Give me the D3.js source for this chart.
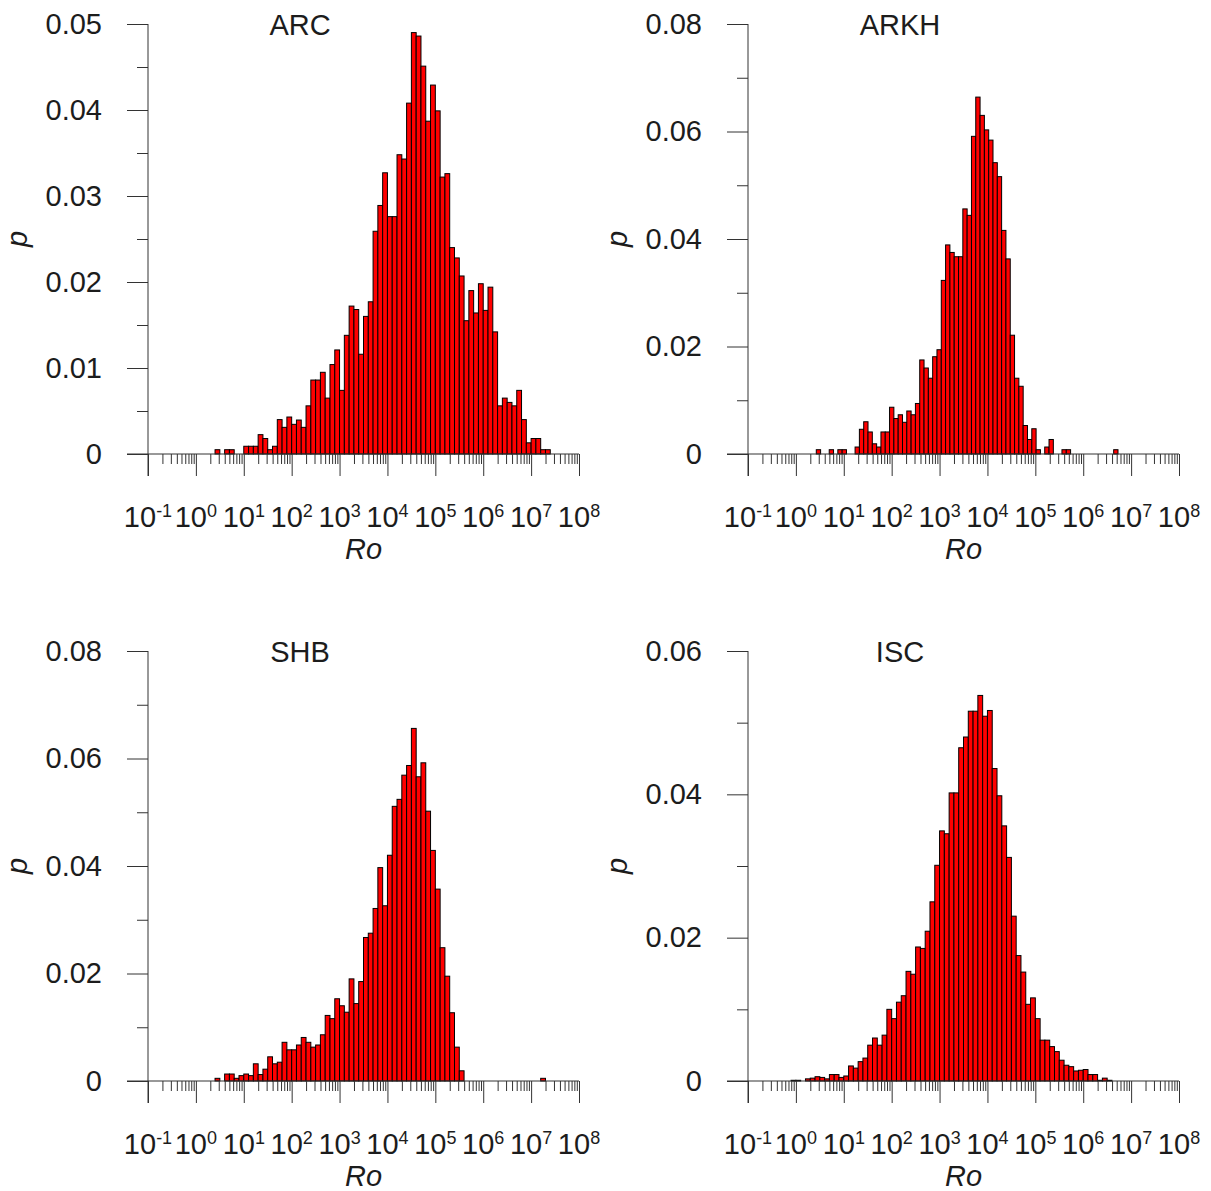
<!DOCTYPE html>
<html>
<head>
<meta charset="utf-8">
<script src="https://cdn.jsdelivr.net/npm/d3@7"></script>
<style>
  body { margin: 0; background: #fff; }
  svg text { font-family: "Liberation Sans", Arial, sans-serif; }
</style>
</head>
<body>
<svg id="chart" width="1211" height="1191"></svg>
<script>
// ---- data: histograms of Ro (log10 bins), p = share of observations per bin ----
const xExponents = [-1, 0, 1, 2, 3, 4, 5, 6, 7, 8];

// ARC: bins of 0.1 decade starting at 10^0.4
const arcStart = 0.4, arcWidth = 0.1;
const arcP = [
  0.0005, 0, 0.0005, 0.0005, 0, 0,
  0.0009, 0.0009, 0.0009, 0.00225, 0.0018, 0.0005, 0.0009, 0.004, 0.0031, 0.0043,
  0.00345, 0.00395, 0.0031, 0.0056, 0.0086, 0.0086, 0.0095, 0.0065, 0.0104, 0.0121,
  0.0074, 0.0138, 0.0172, 0.0168, 0.0116, 0.016, 0.0177, 0.0259, 0.0289, 0.0327,
  0.0276, 0.0276, 0.0348, 0.0343, 0.0408, 0.049, 0.0486, 0.0451, 0.0387, 0.0429,
  0.0399, 0.0322, 0.0326, 0.024, 0.0228, 0.0207, 0.0155, 0.019, 0.0164, 0.0198,
  0.0167, 0.0194, 0.0142, 0.0056, 0.0065, 0.006, 0.0056, 0.0074, 0.004, 0.0013,
  0.0018, 0.0018, 0.0005, 0.0005
];
const arcTicks = [0, 0.01, 0.02, 0.03, 0.04, 0.05];

// ARKH: slightly narrower bins (~0.09 decade) starting at 10^0.426
const arkhStart = 0.426, arkhWidth = 0.09;
const arkhP = [
  0.0008, 0, 0, 0.0008, 0, 0.0008, 0.0008, 0, 0, 0.0013,
  0.0046, 0.006, 0.0041, 0.0019, 0.0013, 0.0041, 0.0041, 0.0087, 0.0066, 0.0073,
  0.0059, 0.008, 0.0073, 0.0094, 0.0175, 0.016, 0.0141, 0.0181, 0.0194, 0.0323,
  0.0389, 0.0375, 0.0367, 0.0367, 0.0456, 0.0444, 0.0591, 0.0664, 0.063, 0.0603,
  0.0584, 0.0542, 0.0516, 0.0416, 0.0363, 0.0221, 0.0141, 0.0126, 0.0053, 0.0027,
  0.0047, 0.0008, 0, 0.0013, 0.0027, 0, 0, 0.0008, 0.0008, 0,
  0, 0, 0, 0, 0, 0, 0, 0, 0, 0.0008
];
const arkhTicks = [0, 0.02, 0.04, 0.06, 0.08];

// SHB
const shbStart = 0.4, shbWidth = 0.1;
const shbP = [
  0.0005, 0, 0.0013, 0.0013, 0.0005, 0.001,
  0.0013, 0.001, 0.0032, 0.0012, 0.0022, 0.0045, 0.0032, 0.0035, 0.0072, 0.0058,
  0.0058, 0.0067, 0.0081, 0.0072, 0.0063, 0.0067, 0.0086, 0.0122, 0.0116, 0.0153,
  0.014, 0.0128, 0.019, 0.0144, 0.0185, 0.0267, 0.0275, 0.0321, 0.0397, 0.0326,
  0.042, 0.0511, 0.0524, 0.0569, 0.0587, 0.0656, 0.0566, 0.0592, 0.0502, 0.0429,
  0.0357, 0.0248, 0.0195, 0.0127, 0.0063, 0.0019, 0, 0, 0, 0,
  0, 0, 0, 0, 0, 0, 0, 0, 0, 0,
  0, 0, 0.0005
];
const shbTicks = [0, 0.02, 0.04, 0.06, 0.08];

// ISC
const iscStart = -0.1, iscWidth = 0.1;
const iscP = [
  0.0001, 0.0001, 0, 0.0003, 0.0004, 0.0006, 0.0005, 0.0003, 0.0009, 0.0009, 0.0005,
  0.0007, 0.0021, 0.0018, 0.0027, 0.0032, 0.005, 0.006, 0.005, 0.0064, 0.01,
  0.0087, 0.011, 0.0119, 0.0153, 0.0149, 0.0187, 0.0185, 0.0209, 0.025, 0.0301,
  0.0349, 0.0345, 0.0402, 0.0402, 0.0465, 0.048, 0.0516, 0.0516, 0.0538, 0.0509,
  0.0517, 0.0436, 0.0398, 0.0356, 0.0312, 0.023, 0.0175, 0.0152, 0.0107, 0.0116,
  0.0087, 0.0057, 0.0057, 0.0048, 0.0041, 0.0029, 0.0022, 0.002, 0.0014, 0.0015,
  0.0016, 0.0009, 0.0009, 0.0001, 0.0004, 0.0001
];
const iscTicks = [0, 0.02, 0.04, 0.06];

const panels = [
  { name: 'ARC',  start: arcStart,  width: arcWidth,  values: arcP,  ticks: arcTicks,  col: 0, row: 0 },
  { name: 'ARKH', start: arkhStart, width: arkhWidth, values: arkhP, ticks: arkhTicks, col: 1, row: 0 },
  { name: 'SHB',  start: shbStart,  width: shbWidth,  values: shbP,  ticks: shbTicks,  col: 0, row: 1 },
  { name: 'ISC',  start: iscStart,  width: iscWidth,  values: iscP,  ticks: iscTicks,  col: 1, row: 1 }
];

// ---- layout ----
const FONT = '"Liberation Sans", Arial, sans-serif';
const FS = 29;
const INK = '#1c1c1c';
const AXIS = '#333';
const W = 431, H = 430;
const colX = [148, 748], rowY = [24, 651];

const svg = d3.select('#chart');

function drawPanel(p) {
  const g = svg.append('g').attr('transform', `translate(${colX[p.col]},${rowY[p.row]})`);
  const x = d3.scaleLog().domain([1e-1, 1e8]).range([0, W]);
  const y = d3.scaleLinear().domain([0, d3.max(p.ticks)]).range([H, 0]);

  // bars
  const bins = p.values
    .map((v, i) => ({ lo: 10 ** (p.start + i * p.width), hi: 10 ** (p.start + (i + 1) * p.width), v }))
    .filter(d => d.v > 0);
  g.append('g').selectAll('rect')
    .data(bins)
    .join('rect')
      .attr('x', d => x(d.lo))
      .attr('width', d => x(d.hi) - x(d.lo))
      .attr('y', d => y(d.v))
      .attr('height', d => H - y(d.v))
      .attr('fill', '#ff0000')
      .attr('stroke', '#000')
      .attr('stroke-width', 1);

  // y axis: major + minor ticks
  const yMinor = d3.pairs(p.ticks).map(([a, b]) => (a + b) / 2);
  const yMaj = g.append('g')
    .call(d3.axisLeft(y).tickValues(p.ticks).tickSize(21).tickSizeOuter(0).tickPadding(25)
      .tickFormat(d => d === 0 ? '0' : d3.format('.2f')(d)))
    .attr('font-family', FONT).attr('font-size', FS).attr('color', AXIS);
  yMaj.select('.domain').remove();
  yMaj.selectAll('text').attr('fill', INK);
  const yMin = g.append('g')
    .call(d3.axisLeft(y).tickValues(yMinor).tickSize(11).tickSizeOuter(0).tickFormat(''))
    .attr('color', AXIS);
  yMin.select('.domain').remove();

  // x axis: decades + 2..9 minor ticks, pointing down
  const decades = xExponents.map(e => 10 ** e);
  const xMinor = decades.slice(0, -1).flatMap(d => d3.range(2, 10).map(m => m * d));
  const xMaj = g.append('g').attr('transform', `translate(0,${H})`)
    .call(d3.axisBottom(x).tickValues(decades).tickSize(22).tickSizeOuter(0).tickFormat(''))
    .attr('color', AXIS);
  xMaj.select('.domain').remove();
  const xMin = g.append('g').attr('transform', `translate(0,${H})`)
    .call(d3.axisBottom(x).tickValues(xMinor).tickSize(10).tickSizeOuter(0).tickFormat(''))
    .attr('color', AXIS);
  xMin.select('.domain').remove();

  // axis lines
  g.append('line').attr('x1', 0).attr('x2', 0).attr('y1', 0).attr('y2', H + 22)
    .attr('stroke', AXIS).attr('stroke-width', 1);
  g.append('line').attr('x1', -21).attr('x2', W).attr('y1', H).attr('y2', H)
    .attr('stroke', AXIS).attr('stroke-width', 1);

  // x tick labels 10^n
  const lab = g.append('g').attr('font-family', FONT).attr('fill', INK);
  xExponents.forEach(e => {
    const t = lab.append('text')
      .attr('x', x(10 ** e)).attr('y', H + 73)
      .attr('text-anchor', 'middle').attr('font-size', FS);
    t.append('tspan').text('10');
    t.append('tspan').attr('font-size', 18).attr('dy', -10).text(String(e));
  });

  // titles
  g.append('text').attr('x', 152).attr('y', 10.5)
    .attr('text-anchor', 'middle').attr('font-family', FONT).attr('font-size', FS).attr('fill', INK)
    .text(p.name);
  g.append('text').attr('x', W / 2).attr('y', H + 105)
    .attr('text-anchor', 'middle').attr('font-family', FONT).attr('font-size', FS)
    .attr('font-style', 'italic').attr('fill', INK)
    .text('Ro');
  g.append('text').attr('transform', `translate(-121,${H / 2}) rotate(-90)`)
    .attr('text-anchor', 'middle').attr('font-family', FONT).attr('font-size', FS)
    .attr('font-style', 'italic').attr('fill', INK)
    .text('p');
}

panels.forEach(drawPanel);
</script>
</body>
</html>
